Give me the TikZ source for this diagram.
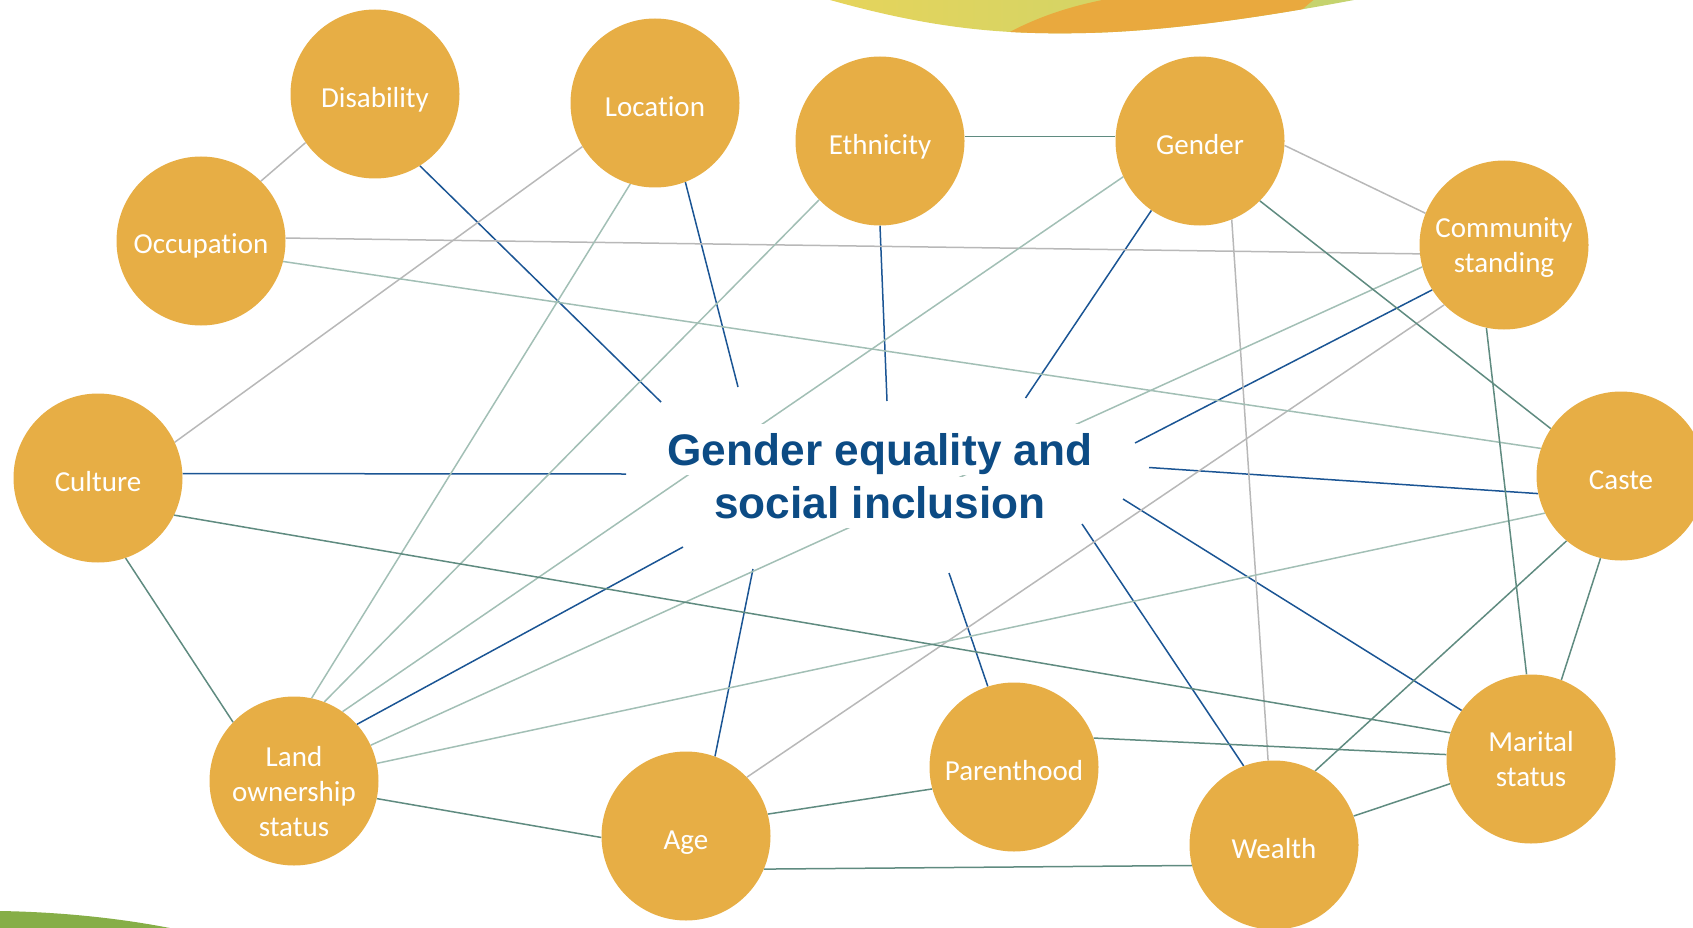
\documentclass[tikz,border=0pt]{standalone}
\usepackage{fontspec}
\newfontfamily\labelfont{Carlito}[Ligatures=NoCommon]
\newfontfamily\titlefont{Liberation Sans}
\definecolor{nodefill}{HTML}{E7AE45}
\definecolor{hubblue}{HTML}{1B5594}
\definecolor{titleblue}{HTML}{0C4B84}
\definecolor{tealdark}{HTML}{5F8B80}
\definecolor{teallight}{HTML}{A2BFB5}
\definecolor{linkgray}{HTML}{B8B8B8}
\definecolor{swyellow}{HTML}{E6D45B}
\definecolor{swgreen}{HTML}{C3D36F}
\definecolor{sworange}{HTML}{E9A93E}
\definecolor{leafgreen}{HTML}{86AE47}
\pgfdeclarelayer{links}
\pgfsetlayers{links,main}
% multi-line label block with fixed line pitch
\newcommand\flines[1]{\begin{tabular}{@{}c@{}}#1\end{tabular}}

\begin{document}
\begin{tikzpicture}[x=1pt,y=-1pt,
  factor/.style={circle,fill=nodefill,minimum size=169pt,inner sep=0pt},
  flabel/.style={text=white,inner sep=0pt,font=\labelfont\fontsize{29}{35}\selectfont},
  title/.style={anchor=base,fill=white,text=titleblue,
    font=\titlefont\bfseries\fontsize{44.2}{53}\selectfont,
    text height=41.5pt,text depth=10pt,inner ysep=0pt,inner xsep=3pt},
  hub/.style={draw=hubblue,line width=1.5pt},
  tiedark/.style={draw=tealdark,line width=1.5pt},
  tielight/.style={draw=teallight,line width=1.5pt},
  tiegray/.style={draw=linkgray,line width=1.5pt}]

\useasboundingbox (0,0) rectangle (1693,928);
\clip (0,0) rectangle (1693,928);

% banner swoosh at the top edge
\begin{scope}
  \clip (830,-5) -- (830,0) .. controls (930,28) and (1000,35) .. (1086,33)
        .. controls (1180,31) and (1290,12) .. (1354,0) -- (1354,-5) -- cycle;
  \shade[left color=swyellow,right color=swgreen] (830,-5) rectangle (1354,40);
  \fill[sworange] (995,40) .. controls (1040,14) and (1080,3) .. (1130,-5)
        -- (1320,-5) .. controls (1300,10) and (1290,20) .. (1280,40) -- cycle;
\end{scope}

% leaf at the bottom-left corner
\fill[leafgreen] (0,911) .. controls (60,912) and (120,918) .. (175,929) -- (0,929) -- cycle;

% factor circles
\node[factor] (dis) at (375,94) {};
\node[factor] (loc) at (655,103) {};
\node[factor] (eth) at (880,141) {};
\node[factor] (gen) at (1200,141) {};
\node[factor] (occ) at (201,241) {};
\node[factor] (com) at (1504,245) {};
\node[factor] (cul) at (98,478) {};
\node[factor] (cas) at (1621,476) {};
\node[factor] (lan) at (294,781) {};
\node[factor] (age) at (686,836) {};
\node[factor] (par) at (1014,767) {};
\node[factor] (wea) at (1274,845) {};
\node[factor] (mar) at (1531,759) {};

% circle labels
\node[flabel,yshift=-6.5pt] (dis-t) at (dis) {\flines{Disability}};
\node[flabel,yshift=-6.5pt] (loc-t) at (loc) {\flines{Location}};
\node[flabel,yshift=-6.5pt] (eth-t) at (eth) {\flines{Ethnicity}};
\node[flabel,yshift=-6.5pt] (gen-t) at (gen) {\flines{Gender}};
\node[flabel,yshift=-5pt] (occ-t) at (occ) {\flines{Occupation}};
\node[flabel,yshift=-3pt] (com-t) at (com) {\flines{Community\\standing}};
\node[flabel,yshift=-6.5pt] (cul-t) at (cul) {\flines{Culture}};
\node[flabel,yshift=-6.5pt] (cas-t) at (cas) {\flines{Caste}};
\node[flabel,yshift=-13pt] (lan-t) at (lan) {\flines{Land\\ownership\\status}};
\node[flabel,yshift=-6.5pt] (age-t) at (age) {\flines{Age}};
\node[flabel,yshift=-6.5pt] (par-t) at (par) {\flines{Parenthood}};
\node[flabel,yshift=-6.5pt] (wea-t) at (wea) {\flines{Wealth}};
\node[flabel,yshift=-3pt] (mar-t) at (mar) {\flines{Marital\\status}};

% central theme
\node[title] (title1) at (880,465) {Gender equality and};
\node[title] (title2) at (880,518) {social inclusion};

% free ends of the spokes towards the theme
\coordinate (e-dis) at (661,402);
\coordinate (e-loc) at (738,387);
\coordinate (e-eth) at (887,401);
\coordinate (e-gen) at (1025.5,398);
\coordinate (e-com) at (1135,443);
\coordinate (e-cas) at (1149,467.5);
\coordinate (e-mar) at (1123,499);
\coordinate (e-wea) at (1082,524);
\coordinate (e-par) at (949,573);
\coordinate (e-age) at (753,569);
\coordinate (e-lan) at (683,547);
\coordinate (e-cul) at (626,474);

\begin{pgfonlayer}{links}
  % spokes
  \draw[hub] (dis.-58) -- (e-dis);
  \draw[hub] (loc.-69.7) -- (e-loc);
  \draw[hub] (eth.-90) -- (e-eth);
  \draw[hub] (gen.235.4) -- (e-gen);
  \draw[hub] (com.212) -- (e-com);
  \draw[hub] (cas.192.6) -- (e-cas);
  \draw[hub] (mar.145.3) -- (e-mar);
  \draw[hub] (wea.111.9) -- (e-wea);
  \draw[hub] (par.108) -- (e-par);
  \draw[hub] (age.70.3) -- (e-age);
  \draw[hub] (lan.42.7) -- (e-lan);
  \draw[hub] (cul.3.9) -- (e-cul);
  % grey ties
  \draw[tiegray] (dis.215) -- (occ.45);
  \draw[tiegray] (gen.-3) -- (com.158);
  \draw[tiegray] (occ.2) -- (com.186);
  \draw[tiegray] (loc.211) -- (cul.25);
  \draw[tiegray] (gen.-68) -- (wea.94);
  \draw[tiegray] (com.225) -- (age.44);
  % light teal ties
  \draw[tielight] (occ.-14.5) -- (cas.161);
  \draw[tielight] (loc.253.5) -- (lan.78);
  \draw[tielight] (eth.224.5) -- (lan.69.5);
  \draw[tielight] (gen.205) -- (lan.55);
  \draw[tielight] (com.195) -- (lan.25);
  \draw[tielight] (cas.206) -- (lan.12);
  % dark teal ties
  \draw[tiedark] (eth.3) -- (gen.177);
  \draw[tiedark] (gen.-45.5) -- (cas.146);
  \draw[tiedark] (com.258.7) -- (mar.93);
  \draw[tiedark] (cas.256) -- (mar.69);
  \draw[tiedark] (cas.230) -- (wea.61);
  \draw[tiedark] (mar.197.6) -- (wea.20);
  \draw[tiedark] (par.20.6) -- (mar.177.3);
  \draw[tiedark] (cul.-26) -- (mar.162.3);
  \draw[tiedark] (cul.-71.4) -- (lan.136.6);
  \draw[tiedark] (lan.-12.8) -- (age.181.6);
  \draw[tiedark] (age.15) -- (par.195);
  \draw[tiedark] (age.-23.6) -- (wea.194.6);
\end{pgfonlayer}
\end{tikzpicture}
\end{document}
